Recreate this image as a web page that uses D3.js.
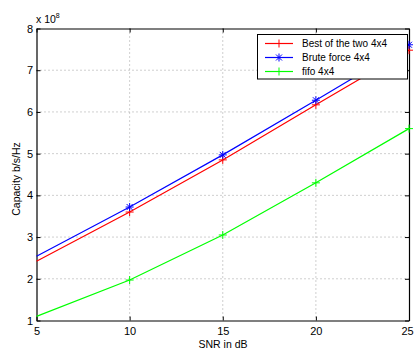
<!DOCTYPE html>
<html><head><meta charset="utf-8">
<script src="https://cdn.jsdelivr.net/npm/d3@7"></script>
<style>body{margin:0;background:#fff}svg{display:block;font-family:"Liberation Sans",Arial,sans-serif}</style>
</head><body><svg id="c" width="414" height="349"></svg>
<script>
const snr = [5, 10, 15, 20, 25];
const bestOfTwo = [2.42, 3.60, 4.85, 6.17, 7.48];
const bruteForce = [2.54, 3.72, 4.97, 6.28, 7.61];
const fifo = [1.10, 1.97, 3.05, 4.30, 5.60];
const xTicks = [5, 10, 15, 20, 25];
const yTicks = [1, 2, 3, 4, 5, 6, 7, 8];
const seriesNames = ["Best of the two 4x4", "Brute force 4x4", "fifo 4x4"];
const seriesColors = ["#ff0000", "#0000ff", "#00ff00"];
const seriesMarkers = ["plus", "star", "plus"];
const seriesData = [bestOfTwo, bruteForce, fifo];

const svg = d3.select("#c");
const L = 36.5, R = 409, T = 28.5, B = 320.5;
const x = d3.scaleLinear().domain([5, 25]).range([L, R]);
const y = d3.scaleLinear().domain([1, 8]).range([B, T]);

// grid
const g = svg.append("g");
g.selectAll(".gx").data(xTicks.slice(1, -1)).enter().append("line")
  .attr("x1", d => x(d)).attr("x2", d => x(d)).attr("y1", T).attr("y2", B)
  .attr("stroke", "#888").attr("stroke-width", 0.8).attr("stroke-dasharray", "1,3");
g.selectAll(".gy").data(yTicks.slice(1, -1)).enter().append("line")
  .attr("y1", d => y(d)).attr("y2", d => y(d)).attr("x1", L).attr("x2", R)
  .attr("stroke", "#888").attr("stroke-width", 0.8).attr("stroke-dasharray", "1,3");

// axes
const fmt = d3.format("d");
const xa = svg.append("g").attr("transform", `translate(0,${B})`)
  .call(d3.axisBottom(x).tickValues(xTicks).tickFormat(fmt).tickSizeInner(-4).tickSizeOuter(0).tickPadding(6.4));
const xaTop = svg.append("g").attr("transform", `translate(0,${T})`)
  .call(d3.axisTop(x).tickValues(xTicks).tickSizeInner(-4).tickSizeOuter(0).tickFormat(""));
const ya = svg.append("g").attr("transform", `translate(${L},0)`)
  .call(d3.axisLeft(y).tickValues(yTicks).tickFormat(fmt).tickSizeInner(-4).tickSizeOuter(0).tickPadding(3.5));
const yaR = svg.append("g").attr("transform", `translate(${R},0)`)
  .call(d3.axisRight(y).tickValues(yTicks).tickSizeInner(-4).tickSizeOuter(0).tickFormat(""));
[xa, xaTop, ya, yaR].forEach(a => {
  a.selectAll("path").attr("stroke", "#000").attr("stroke-width", 1.2);
  a.selectAll("line").attr("stroke", "#000");
  a.selectAll("text").attr("font-size", 11).attr("fill", "#000")
   .attr("font-family", "Liberation Sans, Arial, sans-serif");
});
xa.selectAll("text").filter(d => d === 25).attr("dx", -2);

// lines
const line = d3.line().x((d, i) => x(snr[i])).y(d => y(d));
function marker(sel, type, color, cx, cy) {
  const s = 4;
  sel.append("line").attr("x1", cx - s).attr("x2", cx + s).attr("y1", cy).attr("y2", cy).attr("stroke", color).attr("stroke-width", 1);
  sel.append("line").attr("x1", cx).attr("x2", cx).attr("y1", cy - s).attr("y2", cy + s).attr("stroke", color).attr("stroke-width", 1);
  if (type === "star") {
    const t = 3;
    sel.append("line").attr("x1", cx - t).attr("x2", cx + t).attr("y1", cy - t).attr("y2", cy + t).attr("stroke", color).attr("stroke-width", 1);
    sel.append("line").attr("x1", cx - t).attr("x2", cx + t).attr("y1", cy + t).attr("y2", cy - t).attr("stroke", color).attr("stroke-width", 1);
  }
}
const plot = svg.append("g");
seriesData.forEach((d, k) => {
  const gg = plot.append("g");
  gg.append("path").datum(d).attr("d", line).attr("fill", "none")
    .attr("stroke", seriesColors[k]).attr("stroke-width", 1.2);
  d.forEach((v, i) => { if (i > 0) marker(gg, seriesMarkers[k], seriesColors[k], x(snr[i]), y(v)); });
});

// legend
const lg = svg.append("g");
lg.append("rect").attr("x", 257.5).attr("y", 34.5).attr("width", 150).attr("height", 44.5)
  .attr("fill", "#fff").attr("stroke", "#000").attr("stroke-width", 1);
seriesNames.forEach((n, k) => {
  const yy = 43.5 + k * 14;
  lg.append("line").attr("x1", 265).attr("x2", 293).attr("y1", yy).attr("y2", yy)
    .attr("stroke", seriesColors[k]).attr("stroke-width", 1.2);
  marker(lg, seriesMarkers[k], seriesColors[k], 279, yy);
  lg.append("text").attr("x", 302).attr("y", yy + 3.6).attr("font-size", 10).text(n);
});

// labels
svg.append("text").attr("x", 223).attr("y", 347.5).attr("text-anchor", "middle").attr("font-size", 10.5).text("SNR in dB");
svg.append("text").attr("transform", "translate(20,179) rotate(-90)").attr("text-anchor", "middle")
  .attr("font-size", 10.5).text("Capacity b/s/Hz");
const ex = svg.append("text").attr("x", 36).attr("y", 22.5).attr("font-size", 10.5);
ex.append("tspan").text("x 10");
ex.append("tspan").attr("font-size", 7).attr("dy", -5).text("8");
</script></body></html>
